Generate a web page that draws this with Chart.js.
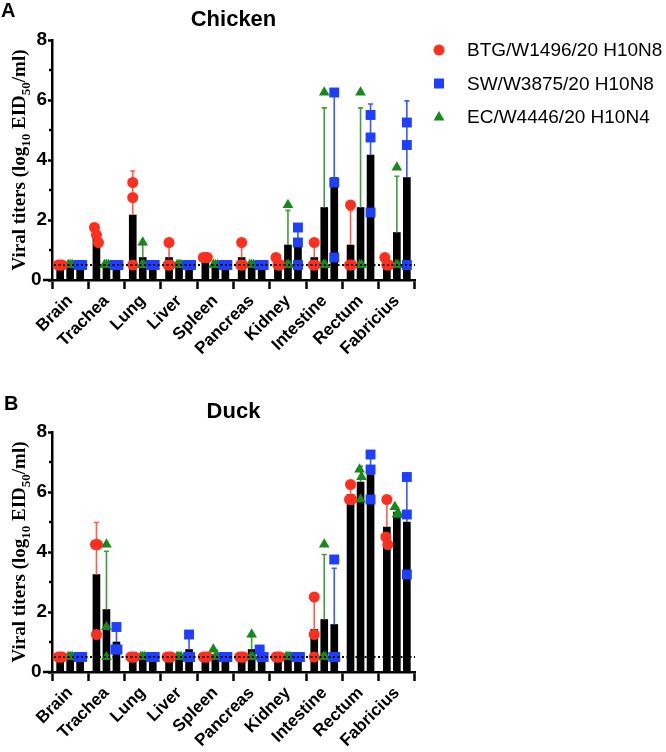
<!DOCTYPE html>
<html>
<head>
<meta charset="utf-8">
<title>Viral titers in chicken and duck organs</title>
<script src="https://cdn.jsdelivr.net/npm/chart.js@4.4.0/dist/chart.umd.min.js"></script>
<style>
  html, body { margin: 0; padding: 0; background: #fff; }
  .panel { position: absolute; left: 0; width: 666px; height: 376px; }
  #panelA { top: 0; }
  #panelB { top: 376px; }
</style>
</head>
<body>
<div class="panel" id="panelA"><canvas id="chartA" width="666" height="376"></canvas></div>
<div class="panel" id="panelB"><canvas id="chartB" width="666" height="376"></canvas></div>
<script>
/* ========================
   DATA (log10 EID50/ml, 3 birds per group)
   ======================== */
const organs = ['Brain', 'Trachea', 'Lung', 'Liver', 'Spleen', 'Pancreas', 'Kidney', 'Intestine', 'Rectum', 'Fabricius'];
const virusLabels = ['BTG/W1496/20 H10N8', 'SW/W3875/20 H10N8', 'EC/W4446/20 H10N4'];
const yTickValues = [0, 2, 4, 6, 8];
const detectionLimit = 0.5;

// Chicken
const chickenBTG = [[0.5,0.5,0.5], [1.75,1.5,1.25], [3.25,2.75,0.5], [1.25,0.5,0.5], [0.75,0.75,0.75],
                    [1.25,0.5,0.5], [0.75,0.5,0.5], [1.25,0.5,0.5], [2.5,0.5,0.5], [0.75,0.5,0.5]];
const chickenSW  = [[0.5,0.5,0.5], [0.5,0.5,0.5], [0.5,0.5,0.5], [0.5,0.5,0.5], [0.5,0.5,0.5],
                    [0.5,0.5,0.5], [1.75,1.25,0.5], [6.25,3.25,0.75], [5.5,4.75,2.25], [5.25,4.5,0.5]];
const chickenEC  = [[0.5,0.5,0.5], [0.5,0.5,0.5], [1.25,0.5,0.5], [0.5,0.5,0.5], [0.5,0.5,0.5],
                    [0.5,0.5,0.5], [2.5,0.5,0.5], [6.25,0.5,0.5], [6.25,0.5,0.5], [3.75,0.5,0.5]];

// Duck
const duckBTG = [[0.5,0.5,0.5], [4.25,4.25,1.25], [0.5,0.5,0.5], [0.5,0.5,0.5], [0.5,0.5,0.5],
                 [0.5,0.5,0.5], [0.5,0.5,0.5], [2.5,1.25,0.5], [6.25,5.75,5.75], [5.75,4.5,4.25]];
const duckSW  = [[0.5,0.5,0.5], [1.5,0.75,0.75], [0.5,0.5,0.5], [1.25,0.5,0.5], [0.5,0.5,0.5],
                 [0.75,0.5,0.5], [0.5,0.5,0.5], [3.75,0.5,0.5], [7.25,6.75,5.75], [6.5,5.25,3.25]];
const duckEC  = [[0.5,0.5,0.5], [4.25,1.5,0.5], [0.5,0.5,0.5], [0.5,0.5,0.5], [0.75,0.5,0.5],
                 [1.25,0.5,0.5], [0.5,0.5,0.5], [4.25,0.5,0.5], [6.75,6.5,5.75], [5.5,5.25,5.25]];

/* ========================
   STYLE
   ======================== */
// legend order: BTG, SW, EC ; bar order inside a category: BTG, EC, SW
const slotOf = [-1, 1, 0];
const markerColors = ['#ff2f1f', '#1f3fff', '#16891a'];
const errorColors = ['#ff5c50', '#3a58ff', '#3f9c3f'];
const pointStyles = ['circle', 'rect', 'triangle'];
const pointRadii = [5.5, 7, 6.2];
const GROUP_STEP = 0.2755;      // bars 10px apart in a ~36px category
const SPREAD = 0.055;           // sideways nudge for overlapping points

const mean = vals => vals.reduce((a, b) => a + b, 0) / vals.length;
const sd = vals => {
  const m = mean(vals);
  return Math.sqrt(vals.reduce((a, v) => a + (v - m) * (v - m), 0) / (vals.length - 1));
};

// Scatter points for one virus group, nudged sideways when they overlap
function scatterPoints(groups, slot) {
  const pts = [];
  groups.forEach((vals, i) => {
    const clusters = [];
    [...vals].sort((a, b) => b - a).forEach(v => {
      const last = clusters[clusters.length - 1];
      if (last && last[last.length - 1] - v < 0.3) last.push(v);
      else clusters.push([v]);
    });
    clusters.forEach(c => c.forEach((v, j) => {
      pts.push({ x: i + slot * GROUP_STEP + (j - (c.length - 1) / 2) * SPREAD, y: v });
    }));
  });
  return pts;
}

/* ========================
   DECORATION PLUGIN
   ======================== */
const panelDecor = {
  id: 'panelDecor',
  // error bars (mean + SD) right after each bar dataset
  afterDatasetDraw(chart, args) {
    const ds = chart.data.datasets[args.index];
    if (!ds.sd) return;
    const y = chart.scales.y;
    const ctx = chart.ctx;
    ctx.save();
    ctx.strokeStyle = ds.errColor;
    ctx.lineWidth = 1.6;
    args.meta.data.forEach((bar, i) => {
      if (!ds.sd[i]) return;
      const top = y.getPixelForValue(ds.data[i].y + ds.sd[i]);
      ctx.beginPath();
      ctx.moveTo(bar.x, bar.y);
      ctx.lineTo(bar.x, top);
      ctx.moveTo(bar.x - 2.5, top);
      ctx.lineTo(bar.x + 2.5, top);
      ctx.stroke();
    });
    ctx.restore();
  },
  afterDatasetsDraw(chart) {
    // detection limit, on top of the markers
    const {ctx, chartArea} = chart;
    const yy = chart.scales.y.getPixelForValue(detectionLimit);
    ctx.save();
    ctx.strokeStyle = '#000';
    ctx.lineWidth = 2;
    ctx.setLineDash([2, 2.5]);
    ctx.beginPath();
    ctx.moveTo(chartArea.left + 2, yy);
    ctx.lineTo(chartArea.right, yy);
    ctx.stroke();
    ctx.restore();
  },
  afterDraw(chart, args, opts) {
    const {ctx, chartArea} = chart;
    const y = chart.scales.y;
    ctx.save();

    // minor ticks on odd values, and the x axis running a little past 0
    ctx.strokeStyle = '#000';
    ctx.lineWidth = 2.5;
    [1, 3, 5, 7].forEach(v => {
      const p = y.getPixelForValue(v);
      ctx.beginPath();
      ctx.moveTo(chartArea.left - 3, p);
      ctx.lineTo(chartArea.left, p);
      ctx.stroke();
    });
    ctx.beginPath();
    ctx.moveTo(chartArea.left - 9, chartArea.bottom);
    ctx.lineTo(chartArea.left, chartArea.bottom);
    ctx.stroke();

    // panel letter
    ctx.fillStyle = '#000';
    ctx.font = 'bold 20px "Liberation Sans", Arial, sans-serif';
    ctx.textBaseline = 'alphabetic';
    ctx.textAlign = 'left';
    ctx.fillText(opts.letter, opts.letterX, opts.letterY);

    // y axis title with subscripts
    const parts = [
      ['Viral titers (log', 0], ['10', 1], [' EID', 0], ['50', 1], ['/ml)', 0]
    ];
    const mainFont = 'bold 19px "Liberation Serif", "Times New Roman", serif';
    const subFont = 'bold 13px "Liberation Serif", "Times New Roman", serif';
    let total = 0;
    parts.forEach(p => { ctx.font = p[1] ? subFont : mainFont; total += ctx.measureText(p[0]).width; });
    ctx.translate(25, (chartArea.top + chartArea.bottom) / 2);
    ctx.rotate(-Math.PI / 2);
    let x = -total / 2;
    parts.forEach(p => {
      ctx.font = p[1] ? subFont : mainFont;
      ctx.fillText(p[0], x, p[1] ? 4.5 : 0);
      x += ctx.measureText(p[0]).width;
    });
    ctx.setTransform(1, 0, 0, 1, 0, 0);

    // legend
    if (opts.legend) {
      chart.data.datasets.filter(d => d.type === 'scatter').forEach((d, i) => {
        const cx = chartArea.right + 24;
        const cy = chartArea.top + 10 + i * 33.5;
        ctx.fillStyle = d.backgroundColor;
        ctx.beginPath();
        if (d.pointStyle === 'circle') {
          ctx.arc(cx, cy, 5.5, 0, Math.PI * 2);
        } else if (d.pointStyle === 'rect') {
          ctx.rect(cx - 5, cy - 5, 10, 10);
        } else {
          ctx.moveTo(cx, cy - 6);
          ctx.lineTo(cx + 5.4, cy + 3.5);
          ctx.lineTo(cx - 5.4, cy + 3.5);
          ctx.closePath();
        }
        ctx.fill();
        ctx.fillStyle = '#000';
        ctx.font = '19px "Liberation Sans", Arial, sans-serif';
        ctx.textBaseline = 'middle';
        ctx.fillText(d.label, chartArea.right + 52, cy + 1);
      });
    }
    ctx.restore();
  }
};

/* ========================
   PANEL BUILDER
   ======================== */
function makePanel(canvasId, title, groups, opt) {
  const datasets = [];
  groups.forEach((grp, g) => {
    datasets.push({
      type: 'bar',
      label: virusLabels[g] + ' mean',
      data: grp.map((vals, i) => ({ x: i + slotOf[g] * GROUP_STEP, y: mean(vals) })),
      sd: grp.map(sd),
      errColor: errorColors[g],
      backgroundColor: '#000',
      borderWidth: 0,
      grouped: false,
      barThickness: 7,
      order: 3
    });
  });
  groups.forEach((grp, g) => {
    datasets.push({
      type: 'scatter',
      label: virusLabels[g],
      data: scatterPoints(grp, slotOf[g]),
      pointStyle: pointStyles[g],
      pointRadius: pointRadii[g],
      backgroundColor: markerColors[g],
      borderColor: markerColors[g],
      borderWidth: 0,
      order: 1
    });
  });

  return new Chart(document.getElementById(canvasId), {
    type: 'bar',
    data: { datasets },
    plugins: [panelDecor],
    options: {
      responsive: false,
      animation: false,
      events: [],
      layout: { padding: { left: 0, right: 251, top: 0, bottom: 0 } },
      scales: {
        x: {
          type: 'linear',
          min: -0.5, max: 9.5,
          offset: false,
          afterBuildTicks: s => { s.ticks = organs.map((_, i) => ({ value: i })); },
          grid: { drawOnChartArea: false, tickLength: 9, tickWidth: 2.5, color: '#000' },
          border: { color: '#000', width: 2.5 },
          ticks: {
            color: '#000',
            font: { family: '"Liberation Sans", Arial, sans-serif', size: 17, weight: 'bold' },
            minRotation: 45, maxRotation: 45, autoSkip: false, padding: 2,
            callback: v => organs[v] ?? ''
          },
          afterFit: s => { s.height = opt.xHeight; }
        },
        y: {
          min: 0, max: 8,
          grid: {
            drawOnChartArea: false, tickLength: 4, tickWidth: 2.5, color: '#000',
            tickColor: c => (yTickValues.includes(c.tick.value) ? '#000' : 'rgba(0,0,0,0)')
          },
          border: { color: '#000', width: 2.5 },
          ticks: {
            stepSize: 1,
            color: '#000',
            padding: 1,
            font: { family: '"Liberation Sans", Arial, sans-serif', size: 19, weight: 'bold' },
            callback: v => (v === 0 ? '0\u2009\u200a' : yTickValues.includes(v) ? String(v) : '')
          },
          afterFit: s => { s.width = 52; }
        }
      },
      plugins: {
        legend: { display: false },
        tooltip: { enabled: false },
        title: {
          display: true,
          text: title,
          fullSize: false,
          color: '#000',
          font: { family: '"Liberation Sans", Arial, sans-serif', size: 22, weight: 'bold' },
          padding: { top: opt.titleTop, bottom: opt.titleBottom }
        },
        panelDecor: { letter: opt.letter, letterX: opt.letterX, letterY: opt.letterY, legend: opt.legend }
      }
    }
  });
}

makePanel('chartA', 'Chicken', [chickenBTG, chickenSW, chickenEC],
  { xHeight: 96, titleTop: 7, titleBottom: 6.6, letter: 'A', letterX: 1, letterY: 17, legend: true });
makePanel('chartB', 'Duck', [duckBTG, duckSW, duckEC],
  { xHeight: 80, titleTop: 22.8, titleBottom: 6.8, letter: 'B', letterX: 4, letterY: 34, legend: false });
</script>
</body>
</html>
